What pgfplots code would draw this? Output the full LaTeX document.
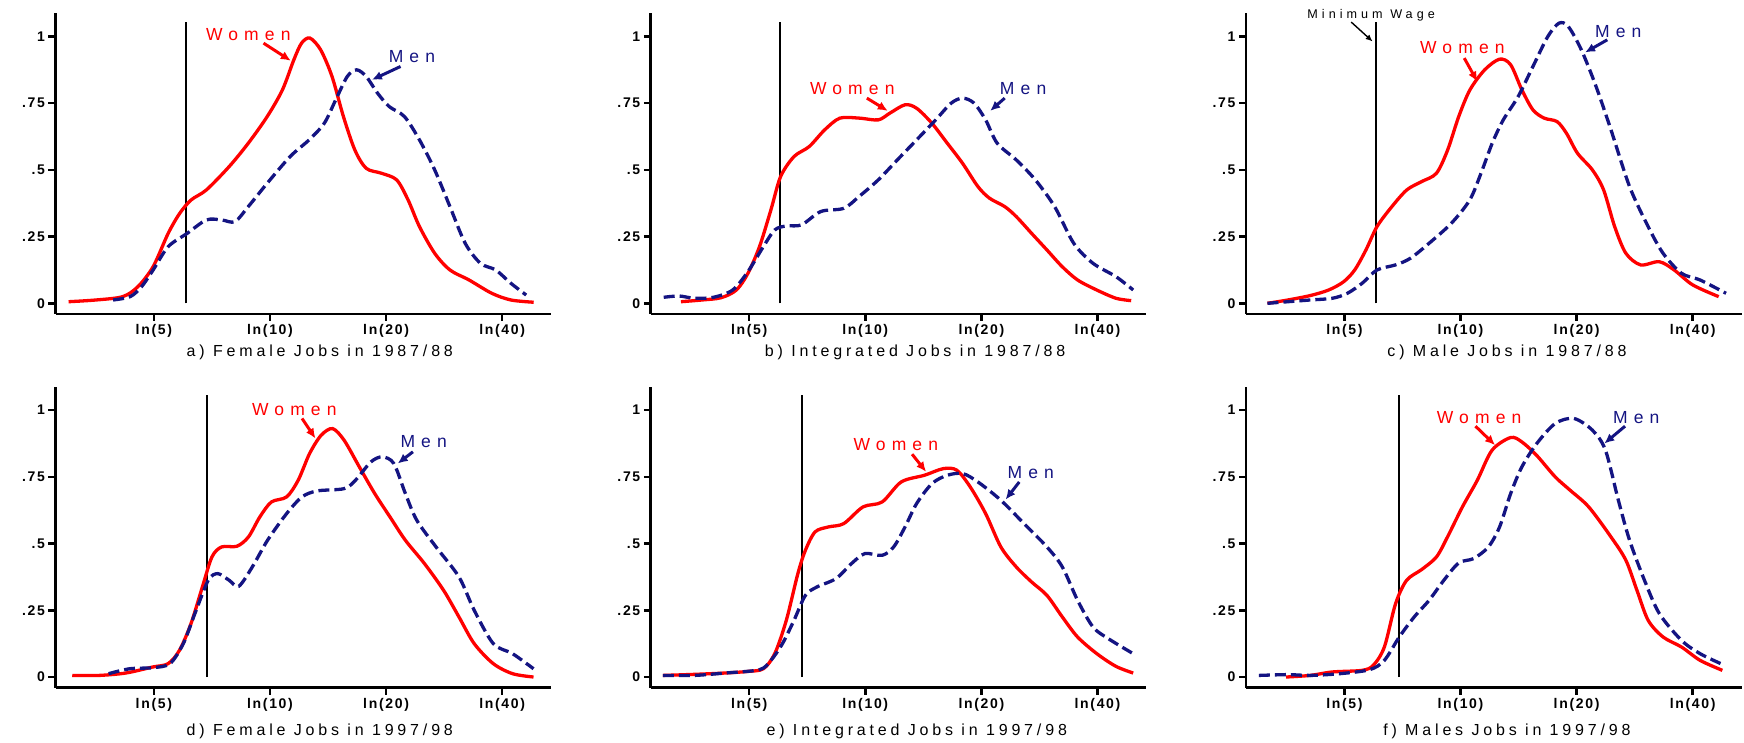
\documentclass[border=0pt]{standalone}
\usepackage{pgfplots}
\pgfplotsset{compat=1.18}
\usetikzlibrary{arrows.meta}
\usepackage{fontspec}
\setmainfont{Liberation Sans}
\newfontfamily\spaced[LetterSpace=35]{Liberation Sans}
\newfontfamily\capfont[LetterSpace=24]{Liberation Sans}
\newfontfamily\mwfont[LetterSpace=32]{Liberation Sans}
\newfontfamily\tickfont[LetterSpace=12]{Liberation Sans}
\definecolor{womenred}{RGB}{255,0,0}
\definecolor{menblue}{RGB}{20,20,130}

\pgfplotsset{
  panel/.style={
    scale only axis, width=495.6pt, height=301pt,
    xmin=1.022, xmax=3.981, ymin=-0.04, ymax=1.088,
    axis x line=bottom, axis y line=left,
    axis line style={-, line width=2.7pt, black},
    xtick={1.6094,2.3026,2.9957,3.6889},
    xticklabels={ln(5),ln(10),ln(20),ln(40)},
    ytick={0,0.25,0.5,0.75,1}, yticklabels={0,.25,.5,.75,1},
    tick align=outside, major tick length=7pt,
    tick style={line width=2.5pt, black},
    tick label style={font=\fontsize{14}{14}\selectfont\tickfont\bfseries},
    clip=false, anchor=south west,
  },
  women/.style={womenred, line width=3.3pt, smooth, tension=0.5},
  men/.style={menblue, line width=3.3pt, smooth, tension=0.5, dash pattern=on 11pt off 5pt},
  minw/.style={black, line width=1.8pt},
}
\tikzset{
  wlab/.style={font=\fontsize{17.5}{17.5}\selectfont\spaced},
  captxt/.style={font=\fontsize{16}{16}\selectfont\capfont, black},
  warrow/.style={-{Latex[length=10pt,width=9pt]}, line width=3pt},
}

\begin{document}
\begin{tikzpicture}
\useasboundingbox (0,0) rectangle (1744pt,743pt);

% a) Female jobs 1987/88
\begin{axis}[panel, at={(55.5pt,429pt)}]
\addplot[minw] coordinates {(1.80,0) (1.80,1.055)};
\addplot[women] coordinates {
(1.100,0.006) (1.264,0.0125) (1.423,0.025) (1.514,0.0625) (1.605,0.1375)
(1.695,0.2625) (1.764,0.3375) (1.832,0.3875) (1.923,0.425) (2.059,0.5125)
(2.173,0.6) (2.286,0.7) (2.377,0.8) (2.445,0.9125) (2.491,0.975)
(2.541,0.994) (2.605,0.95) (2.673,0.85) (2.741,0.7) (2.809,0.575)
(2.877,0.506) (2.968,0.4875) (3.059,0.4625) (3.127,0.3875) (3.195,0.2875)
(3.286,0.1875) (3.377,0.125) (3.491,0.0875) (3.627,0.0375) (3.741,0.0125)
(3.877,0.004)};
\addplot[men] coordinates {
(1.366,0.0125) (1.468,0.025) (1.536,0.0625) (1.605,0.125) (1.695,0.2125)
(1.809,0.2625) (1.923,0.3125) (2.014,0.3125) (2.093,0.306) (2.173,0.3625)
(2.286,0.45) (2.423,0.55) (2.536,0.6125) (2.627,0.675) (2.695,0.7625)
(2.764,0.85) (2.820,0.875) (2.877,0.85) (2.945,0.7875) (3.014,0.7375)
(3.105,0.7) (3.195,0.6125) (3.286,0.5) (3.377,0.3625) (3.468,0.225)
(3.559,0.15) (3.650,0.125) (3.741,0.075) (3.832,0.031)};
\node[wlab, womenred] at (axis cs:2.173,1.009) {Women};
\draw[warrow, womenred] (axis cs:2.264,0.975) -- (axis cs:2.427,0.909);
\node[wlab, menblue] at (axis cs:3.150,0.925) {Men};
\draw[warrow, menblue] (axis cs:3.082,0.8875) -- (axis cs:2.911,0.8375);
\node[captxt] at (axis cs:2.60,-0.185) {a) Female Jobs in 1987/88};
\end{axis}

% b) Integrated jobs 1987/88
\begin{axis}[panel, at={(650.8pt,429pt)}]
\addplot[minw] coordinates {(1.794,0) (1.794,1.055)};
\addplot[women] coordinates {
(1.202,0.006) (1.328,0.0125) (1.442,0.021) (1.533,0.05) (1.602,0.1125)
(1.671,0.2125) (1.739,0.35) (1.797,0.475) (1.877,0.55) (1.968,0.5875)
(2.060,0.65) (2.151,0.694) (2.266,0.694) (2.380,0.6875) (2.449,0.7125)
(2.540,0.744) (2.609,0.731) (2.700,0.675) (2.792,0.6) (2.883,0.525)
(2.975,0.4375) (3.044,0.394) (3.135,0.3625) (3.204,0.325) (3.295,0.2625)
(3.387,0.2) (3.478,0.1375) (3.570,0.0875) (3.684,0.05) (3.799,0.019)
(3.890,0.01)};
\addplot[men] coordinates {
(1.099,0.0225) (1.190,0.0275) (1.282,0.019) (1.396,0.0225) (1.511,0.05)
(1.602,0.119) (1.694,0.2125) (1.762,0.275) (1.831,0.29) (1.922,0.294)
(2.037,0.344) (2.174,0.356) (2.265,0.4) (2.380,0.4625) (2.494,0.5375)
(2.609,0.6125) (2.723,0.6875) (2.815,0.75) (2.884,0.769) (2.952,0.75)
(3.021,0.6875) (3.090,0.6) (3.204,0.5375) (3.318,0.4625) (3.433,0.3625)
(3.547,0.225) (3.662,0.15) (3.799,0.1) (3.902,0.05)};
\node[wlab, womenred] at (axis cs:2.225,0.805) {Women};
\draw[warrow, womenred] (axis cs:2.312,0.769) -- (axis cs:2.437,0.721);
\node[wlab, menblue] at (axis cs:3.245,0.805) {Men};
\draw[warrow, menblue] (axis cs:3.135,0.769) -- (axis cs:3.048,0.721);
\node[captxt] at (axis cs:2.60,-0.185) {b) Integrated Jobs in 1987/88};
\end{axis}

% c) Male jobs 1987/88
\begin{axis}[panel, at={(1246pt,429pt)}]
\addplot[minw] coordinates {(1.80,0) (1.80,1.055)};
\addplot[women] coordinates {
(1.150,0) (1.272,0.0125) (1.405,0.029) (1.516,0.05) (1.605,0.081)
(1.671,0.125) (1.738,0.2) (1.804,0.2875) (1.893,0.3625) (1.982,0.425)
(2.070,0.456) (2.159,0.4875) (2.226,0.575) (2.292,0.7) (2.359,0.8)
(2.447,0.875) (2.536,0.915) (2.602,0.894) (2.669,0.8) (2.735,0.725)
(2.802,0.694) (2.879,0.681) (2.935,0.6375) (3.001,0.5625) (3.090,0.5)
(3.157,0.425) (3.223,0.2875) (3.290,0.1875) (3.378,0.144) (3.489,0.156)
(3.578,0.125) (3.689,0.069) (3.844,0.025)};
\addplot[men] coordinates {
(1.150,0) (1.272,0.006) (1.405,0.0125) (1.538,0.019) (1.627,0.0375)
(1.715,0.075) (1.804,0.125) (1.915,0.144) (2.004,0.169) (2.115,0.225)
(2.248,0.3) (2.358,0.3875) (2.425,0.4875) (2.492,0.6) (2.558,0.6875)
(2.647,0.775) (2.735,0.8875) (2.824,1.0) (2.891,1.05) (2.946,1.0375)
(3.024,0.95) (3.112,0.8125) (3.201,0.65) (3.312,0.4375) (3.423,0.2875)
(3.512,0.1875) (3.622,0.1125) (3.733,0.0875) (3.888,0.0375)};
\node[wlab, womenred] at (axis cs:2.314,0.959) {Women};
\draw[warrow, womenred] (axis cs:2.325,0.919) -- (axis cs:2.403,0.831);
\node[wlab, menblue] at (axis cs:3.245,1.019) {Men};
\draw[warrow, menblue] (axis cs:3.179,0.9875) -- (axis cs:3.046,0.94);
\node[font=\fontsize{12.6}{12.6}\selectfont\mwfont] at (axis cs:1.769,1.079) {Minimum Wage};
\draw[-{Latex[length=7pt,width=6pt]}, line width=1.4pt] (axis cs:1.650,1.054) -- (axis cs:1.778,0.981);
\node[captxt] at (axis cs:2.58,-0.185) {c) Male Jobs in 1987/88};
\end{axis}

% d) Female jobs 1997/98
\begin{axis}[panel, at={(55.5pt,55.3pt)}]
\addplot[minw] coordinates {(1.925,0) (1.925,1.056)};
\addplot[women] coordinates {
(1.122,0.006) (1.282,0.006) (1.442,0.015) (1.602,0.0375) (1.694,0.05)
(1.762,0.1) (1.831,0.2) (1.899,0.3375) (1.956,0.45) (2.014,0.4875)
(2.105,0.49) (2.174,0.525) (2.242,0.6) (2.311,0.656) (2.402,0.675)
(2.471,0.7375) (2.539,0.8375) (2.608,0.906) (2.676,0.931) (2.745,0.8875)
(2.836,0.7875) (2.928,0.6875) (3.019,0.6) (3.111,0.5125) (3.225,0.425)
(3.339,0.325) (3.431,0.225) (3.522,0.125) (3.636,0.05) (3.751,0.0125)
(3.876,0)};
\addplot[men] coordinates {
(1.339,0.0125) (1.465,0.031) (1.602,0.035) (1.705,0.05) (1.785,0.125)
(1.854,0.2375) (1.934,0.3625) (1.991,0.3875) (2.059,0.3625) (2.116,0.34)
(2.197,0.4125) (2.288,0.5125) (2.402,0.6125) (2.494,0.675) (2.585,0.6975)
(2.745,0.706) (2.813,0.7375) (2.905,0.806) (2.973,0.825) (3.042,0.8)
(3.111,0.6875) (3.179,0.5875) (3.294,0.4875) (3.431,0.375) (3.522,0.25)
(3.636,0.125) (3.751,0.0875) (3.876,0.031)};
\node[wlab, womenred] at (axis cs:2.448,1.0025) {Women};
\draw[warrow, womenred] (axis cs:2.494,0.969) -- (axis cs:2.574,0.894);
\node[wlab, menblue] at (axis cs:3.220,0.881) {Men};
\draw[warrow, menblue] (axis cs:3.156,0.844) -- (axis cs:3.065,0.8);
\node[captxt] at (axis cs:2.60,-0.205) {d) Female Jobs in 1997/98};
\end{axis}

% e) Integrated jobs 1997/98
\begin{axis}[panel, at={(650.8pt,55.3pt)}]
\addplot[minw] coordinates {(1.925,0) (1.925,1.056)};
\addplot[women] coordinates {
(1.094,0.006) (1.282,0.01) (1.465,0.015) (1.602,0.021) (1.694,0.031)
(1.762,0.0875) (1.831,0.2125) (1.900,0.3875) (1.945,0.475) (2.003,0.544)
(2.083,0.5625) (2.174,0.575) (2.289,0.6375) (2.403,0.656) (2.517,0.731)
(2.655,0.756) (2.769,0.781) (2.849,0.775) (2.929,0.7125) (3.021,0.6125)
(3.112,0.4875) (3.204,0.4125) (3.296,0.356) (3.387,0.306) (3.479,0.225)
(3.570,0.15) (3.685,0.0875) (3.799,0.04) (3.902,0.015)};
\addplot[men] coordinates {
(1.094,0.006) (1.282,0.006) (1.465,0.015) (1.671,0.0275) (1.739,0.0625)
(1.808,0.125) (1.877,0.2125) (1.945,0.306) (2.014,0.3375) (2.128,0.369)
(2.220,0.425) (2.300,0.4625) (2.403,0.456) (2.472,0.4875) (2.540,0.5625)
(2.609,0.65) (2.701,0.725) (2.792,0.756) (2.884,0.7625) (2.975,0.731)
(3.112,0.6625) (3.250,0.575) (3.387,0.4875) (3.479,0.4125) (3.570,0.2875)
(3.662,0.1875) (3.753,0.144) (3.902,0.0875)};
\node[wlab, womenred] at (axis cs:2.485,0.871) {Women};
\draw[warrow, womenred] (axis cs:2.582,0.835) -- (axis cs:2.666,0.769);
\node[wlab, menblue] at (axis cs:3.291,0.765) {Men};
\draw[warrow, menblue] (axis cs:3.222,0.731) -- (axis cs:3.140,0.665);
\node[captxt] at (axis cs:2.61,-0.205) {e) Integrated Jobs in 1997/98};
\end{axis}

% f) Male jobs 1997/98
\begin{axis}[panel, at={(1246pt,55.3pt)}]
\addplot[minw] coordinates {(1.934,0) (1.934,1.056)};
\addplot[women] coordinates {
(1.261,0) (1.405,0.006) (1.538,0.019) (1.715,0.025) (1.782,0.044)
(1.848,0.1125) (1.915,0.275) (1.981,0.3625) (2.070,0.4025) (2.159,0.45)
(2.225,0.525) (2.314,0.6375) (2.403,0.7375) (2.491,0.85) (2.602,0.8975)
(2.669,0.881) (2.758,0.83) (2.868,0.75) (2.957,0.7) (3.068,0.6375)
(3.201,0.525) (3.290,0.4375) (3.356,0.325) (3.423,0.2125) (3.512,0.15)
(3.622,0.1125) (3.733,0.0625) (3.866,0.025)};
\addplot[men] coordinates {
(1.099,0.006) (1.272,0.009) (1.405,0.006) (1.582,0.0125) (1.760,0.0275)
(1.848,0.0625) (1.937,0.15) (2.026,0.225) (2.115,0.2875) (2.203,0.3625)
(2.292,0.4275) (2.381,0.444) (2.469,0.4875) (2.536,0.5625) (2.602,0.6875)
(2.669,0.7875) (2.758,0.875) (2.868,0.95) (2.979,0.969) (3.090,0.925)
(3.168,0.85) (3.245,0.6625) (3.312,0.5125) (3.401,0.3625) (3.490,0.2375)
(3.622,0.1375) (3.733,0.0875) (3.866,0.0475)};
\node[wlab, womenred] at (axis cs:2.414,0.9725) {Women};
\draw[warrow, womenred] (axis cs:2.392,0.94) -- (axis cs:2.509,0.869);
\node[wlab, menblue] at (axis cs:3.352,0.9725) {Men};
\draw[warrow, menblue] (axis cs:3.285,0.94) -- (axis cs:3.161,0.875);
\node[captxt] at (axis cs:2.58,-0.205) {f) Males Jobs in 1997/98};
\end{axis}
\end{tikzpicture}
\end{document}
